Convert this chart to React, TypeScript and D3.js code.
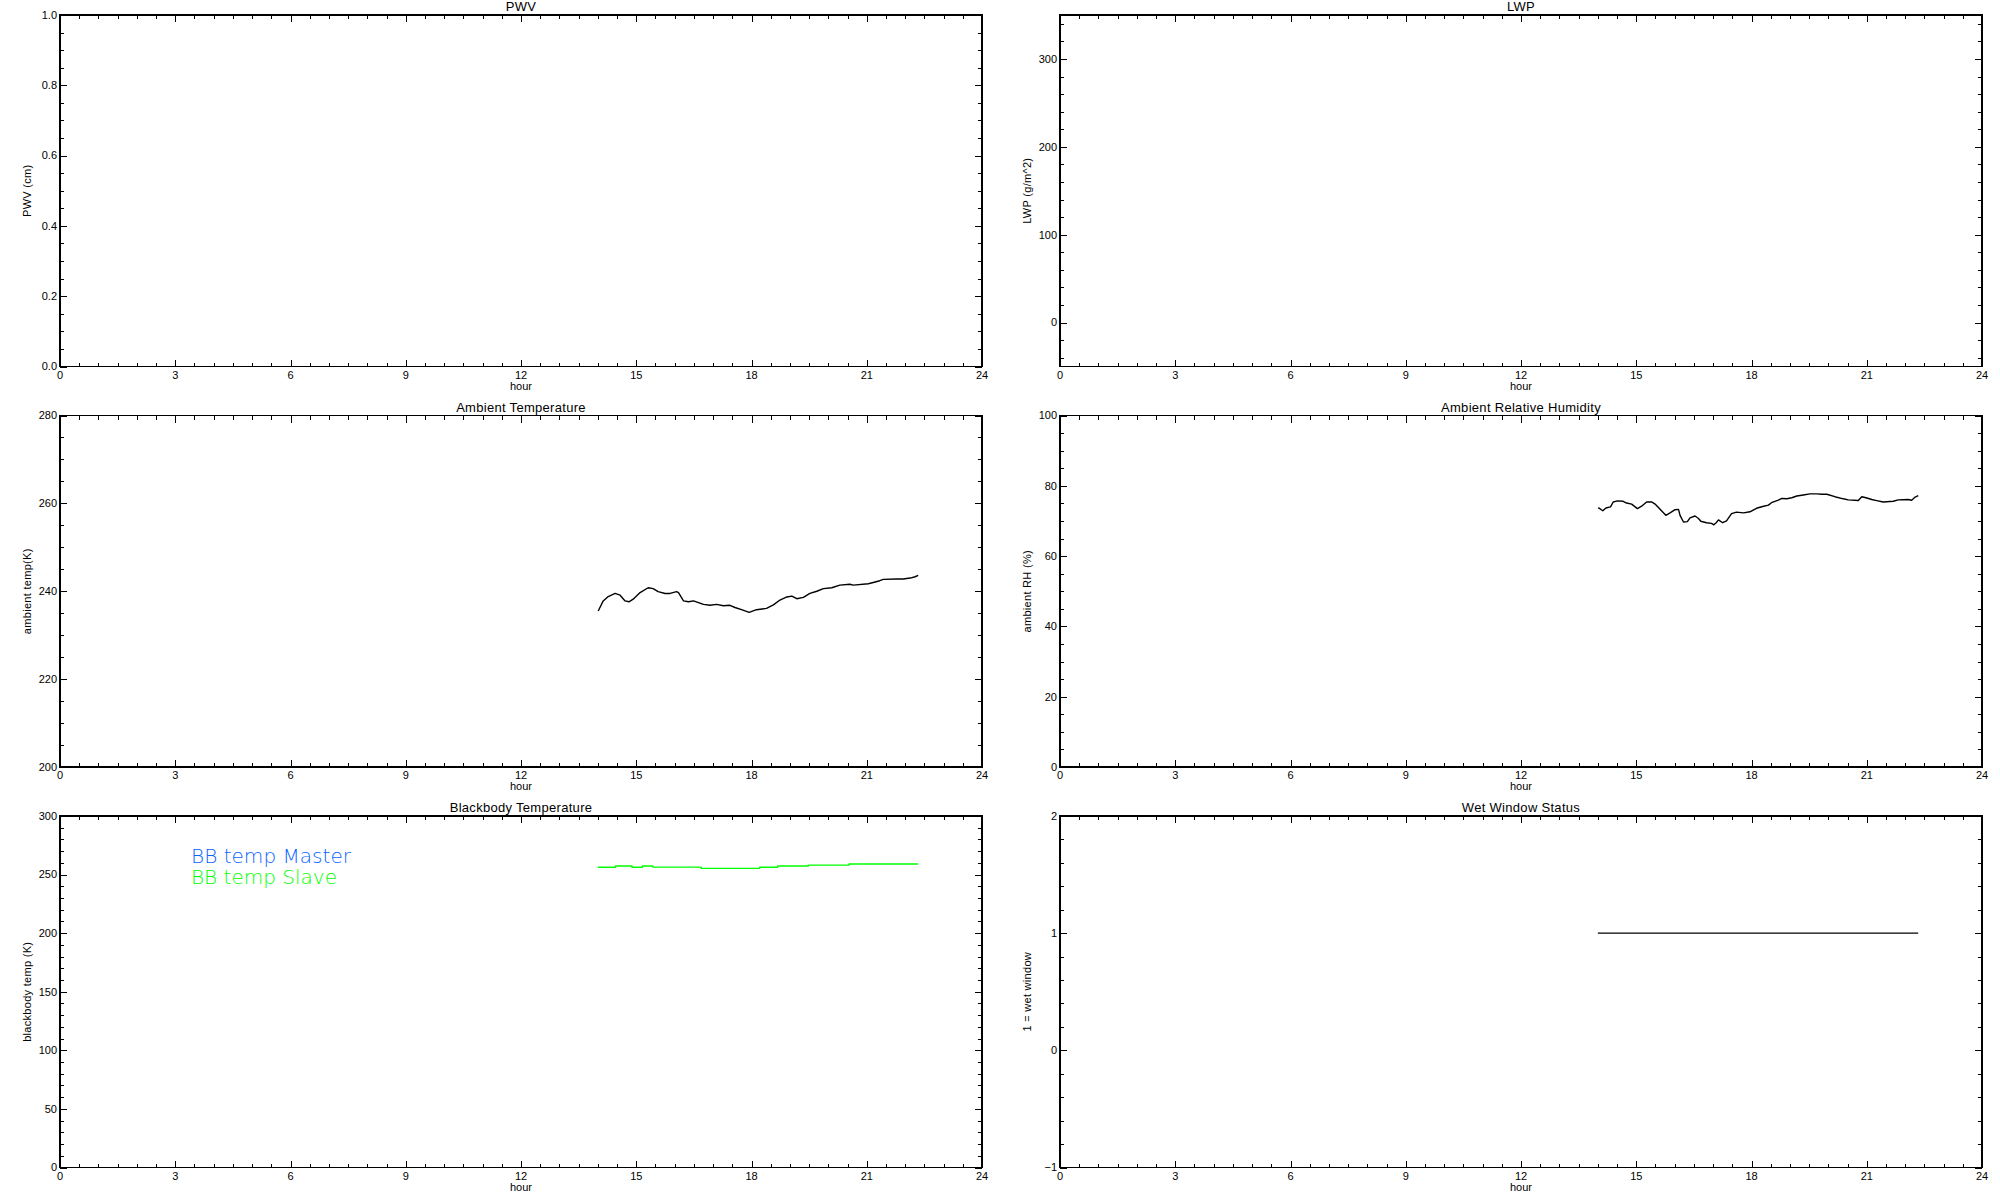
import React from 'react';
import * as d3 from 'd3';

// ---------- data ----------
const tempHours = [14.01, 14.14, 14.27, 14.45, 14.58, 14.71, 14.81, 14.92, 15.10, 15.31, 15.44, 15.57, 15.75, 15.88, 16.05, 16.10, 16.23, 16.36, 16.49, 16.62, 16.75, 16.92, 17.09, 17.27, 17.44, 17.57, 17.74, 17.94, 18.13, 18.39, 18.57, 18.74, 18.92, 19.05, 19.18, 19.35, 19.52, 19.70, 19.87, 20.09, 20.30, 20.56, 20.65, 21.04, 21.17, 21.34, 21.43, 21.78, 21.95, 22.13, 22.26, 22.34];
const tempValues = [235.5, 237.8, 238.8, 239.5, 239.1, 237.8, 237.6, 238.2, 239.7, 240.8, 240.6, 239.9, 239.5, 239.5, 239.9, 239.7, 237.8, 237.6, 237.8, 237.4, 237.0, 236.8, 237.0, 236.7, 236.8, 236.3, 235.8, 235.2, 235.8, 236.1, 236.9, 238.0, 238.7, 238.9, 238.3, 238.6, 239.5, 240.0, 240.6, 240.8, 241.4, 241.6, 241.4, 241.7, 242.0, 242.4, 242.7, 242.8, 242.8, 243.0, 243.3, 243.6];

const rhHours = [14.01, 14.13, 14.21, 14.33, 14.40, 14.51, 14.66, 14.75, 14.88, 15.03, 15.14, 15.27, 15.40, 15.49, 15.62, 15.77, 15.88, 16.01, 16.10, 16.14, 16.23, 16.33, 16.40, 16.53, 16.62, 16.68, 16.83, 16.96, 17.02, 17.08, 17.14, 17.25, 17.35, 17.48, 17.61, 17.79, 17.96, 18.13, 18.29, 18.44, 18.52, 18.70, 18.79, 18.92, 19.05, 19.18, 19.35, 19.52, 19.70, 19.83, 19.96, 20.17, 20.39, 20.52, 20.78, 20.87, 20.98, 21.13, 21.26, 21.43, 21.69, 21.82, 22.08, 22.17, 22.26, 22.34];
const rhValues = [73.8, 72.9, 73.7, 74.0, 75.4, 75.7, 75.6, 75.1, 74.8, 73.5, 74.2, 75.4, 75.4, 74.8, 73.3, 71.6, 72.3, 73.2, 73.3, 71.6, 69.7, 69.8, 70.9, 71.4, 70.7, 69.9, 69.5, 69.3, 68.9, 69.5, 70.3, 69.5, 70.0, 72.1, 72.5, 72.3, 72.6, 73.6, 74.1, 74.5, 75.2, 75.9, 76.4, 76.3, 76.6, 77.1, 77.4, 77.7, 77.7, 77.6, 77.6, 76.9, 76.3, 76.0, 75.8, 76.9, 76.6, 76.1, 75.8, 75.4, 75.6, 76.0, 76.1, 75.9, 76.8, 77.2];

const bbHours = [14.00, 14.46, 14.89, 15.16, 15.43, 16.69, 18.21, 18.68, 19.48, 20.54, 22.34];
const bbSlaveValues = [256.2, 257.3, 256.2, 257.3, 256.4, 255.3, 256.2, 257.3, 258.1, 259.0, 259.0];

const wetHours = [14.0, 22.34];
const wetValues = [1, 1];

const legendLabels = ['BB temp Master', 'BB temp Slave'];
const legendColors = ['#0a64ff', '#00ff00'];

const xMajorTicks = [0, 3, 6, 9, 12, 15, 18, 21, 24];

// ---------- layout ----------
const W = 2000;
const H = 1200;
const colX = [[60, 982], [1060, 1982]];
const rowTop = [15, 415.5, 816];
const plotH = 351.5;
const FONT = '"Liberation Sans", Arial, sans-serif';
const LIGHT = '"DejaVu Sans", "Liberation Sans", sans-serif';

type Series = { xs: number[]; ys: number[]; color: string; step?: boolean };
type Panel = {
  title: string;
  ylabel: string;
  domain: [number, number];
  majors: number[];
  minorStep: number;
  fmt: (v: number) => string;
  col: number;
  row: number;
  series: Series[];
  legend?: boolean;
};

const intFmt = (v: number) => (v < 0 ? '\u2212' + Math.abs(v) : String(v));

const panels: Panel[] = [
  { title: 'PWV', ylabel: 'PWV (cm)', domain: [0, 1], majors: [0, 0.2, 0.4, 0.6, 0.8, 1.0], minorStep: 0.05, fmt: d3.format('.1f'), col: 0, row: 0, series: [] },
  { title: 'LWP', ylabel: 'LWP (g/m^2)', domain: [-50, 350], majors: [0, 100, 200, 300], minorStep: 20, fmt: intFmt, col: 1, row: 0, series: [] },
  { title: 'Ambient Temperature', ylabel: 'ambient temp(K)', domain: [200, 280], majors: [200, 220, 240, 260, 280], minorStep: 5, fmt: intFmt, col: 0, row: 1, series: [{ xs: tempHours, ys: tempValues, color: '#000' }] },
  { title: 'Ambient Relative Humidity', ylabel: 'ambient RH (%)', domain: [0, 100], majors: [0, 20, 40, 60, 80, 100], minorStep: 5, fmt: intFmt, col: 1, row: 1, series: [{ xs: rhHours, ys: rhValues, color: '#000' }] },
  { title: 'Blackbody Temperature', ylabel: 'blackbody temp (K)', domain: [0, 300], majors: [0, 50, 100, 150, 200, 250, 300], minorStep: 10, fmt: intFmt, col: 0, row: 2, series: [{ xs: bbHours, ys: bbSlaveValues, color: legendColors[1], step: true }], legend: true },
  { title: 'Wet Window Status', ylabel: '1 = wet window', domain: [-1, 2], majors: [-1, 0, 1, 2], minorStep: 0.2, fmt: intFmt, col: 1, row: 2, series: [{ xs: wetHours, ys: wetValues, color: '#000' }] },
];

function rangeTicks(lo: number, hi: number, step: number): number[] {
  const out: number[] = [];
  const start = Math.ceil(lo / step - 1e-9);
  const end = Math.floor(hi / step + 1e-9);
  for (let i = start; i <= end; i++) out.push(+(i * step).toFixed(6));
  return out;
}

function PanelView({ p }: { p: Panel }) {
  const [x0, x1] = colX[p.col];
  const y0 = rowTop[p.row];
  const y1 = y0 + plotH;
  const x = d3.scaleLinear().domain([0, 24]).range([x0, x1]);
  const y = d3.scaleLinear().domain(p.domain).range([y1, y0]);
  const xMinor = rangeTicks(0, 24, 0.5);
  const yMinor = rangeTicks(p.domain[0], p.domain[1], p.minorStep);
  const MAJ = 7;
  const MIN = 4;
  const isMajorX = (v: number) => xMajorTicks.some((m) => Math.abs(m - v) < 1e-6);
  const isMajorY = (v: number) => p.majors.some((m) => Math.abs(m - v) < 1e-6);
  const cx = (x0 + x1) / 2;
  const cy = (y0 + y1) / 2;

  return (
    <g>
      {p.series.map((s, i) => {
        const pts = s.xs.map((h, k) => [h, s.ys[k]] as [number, number]);
        const line = d3
          .line<[number, number]>()
          .x((d) => x(d[0]))
          .y((d) => y(d[1]))
          .curve(s.step ? d3.curveStepAfter : d3.curveLinear);
        return <path key={i} d={line(pts) || ''} fill="none" stroke={s.color} strokeWidth={1.4} strokeLinejoin="round" />;
      })}
      <rect x={x0} y={y0} width={x1 - x0} height={y1 - y0} fill="none" stroke="#000" strokeWidth={1.6} shapeRendering="crispEdges" />
      {xMinor.map((v) => {
        const len = isMajorX(v) ? MAJ : MIN;
        const xx = Math.round(x(v)) + 0.5;
        return (
          <g key={'x' + v}>
            <line x1={xx} x2={xx} y1={y1} y2={y1 - len} stroke="#000" strokeWidth={1.2} shapeRendering="crispEdges" />
            <line x1={xx} x2={xx} y1={y0} y2={y0 + len} stroke="#000" strokeWidth={1.2} shapeRendering="crispEdges" />
          </g>
        );
      })}
      {xMajorTicks.map((v) => (
        <text key={'xl' + v} x={x(v)} y={y1 + 12} fontSize={11} fontFamily={FONT} textAnchor="middle">
          {v}
        </text>
      ))}
      <text x={cx} y={y1 + 23} fontSize={11} fontFamily={FONT} textAnchor="middle">
        hour
      </text>
      {yMinor.map((v) => {
        const len = isMajorY(v) ? MAJ : MIN;
        const yy = Math.round(y(v)) + 0.5;
        return (
          <g key={'y' + v}>
            <line x1={x0} x2={x0 + len} y1={yy} y2={yy} stroke="#000" strokeWidth={1.2} shapeRendering="crispEdges" />
            <line x1={x1} x2={x1 - len} y1={yy} y2={yy} stroke="#000" strokeWidth={1.2} shapeRendering="crispEdges" />
          </g>
        );
      })}
      {p.majors.map((v) => (
        <text key={'yl' + v} x={x0 - 3} y={y(v)} dy="0.35em" fontSize={11} fontFamily={FONT} textAnchor="end">
          {p.fmt(v)}
        </text>
      ))}
      <text
        transform={`translate(${x0 - 33},${cy}) rotate(-90)`}
        fontSize={11}
        fontFamily={FONT}
        textAnchor="middle"
        dy="0.35em"
        letterSpacing={0.3}
      >
        {p.ylabel}
      </text>
      <text x={cx} y={y0 - 4} fontSize={13} fontFamily={FONT} textAnchor="middle" letterSpacing={0.3}>
        {p.title}
      </text>
      {p.legend &&
        legendLabels.map((l, i) => (
          <text
            key={l}
            x={191}
            y={863 + i * 20.5}
            fontSize={19}
            fontFamily={LIGHT}
            fontWeight={200}
            fill={legendColors[i]}
            textLength={i === 0 ? 160 : 146}
            lengthAdjust="spacingAndGlyphs"
          >
            {l}
          </text>
        ))}
    </g>
  );
}

export default function App() {
  return (
    <svg
      width={W}
      height={H}
      viewBox={`0 0 ${W} ${H}`}
      style={{ position: 'absolute', left: 0, top: 0, background: '#fff', display: 'block' }}
    >
      <rect x={0} y={0} width={W} height={H} fill="#fff" />
      {panels.map((p, i) => (
        <PanelView key={i} p={p} />
      ))}
    </svg>
  );
}
